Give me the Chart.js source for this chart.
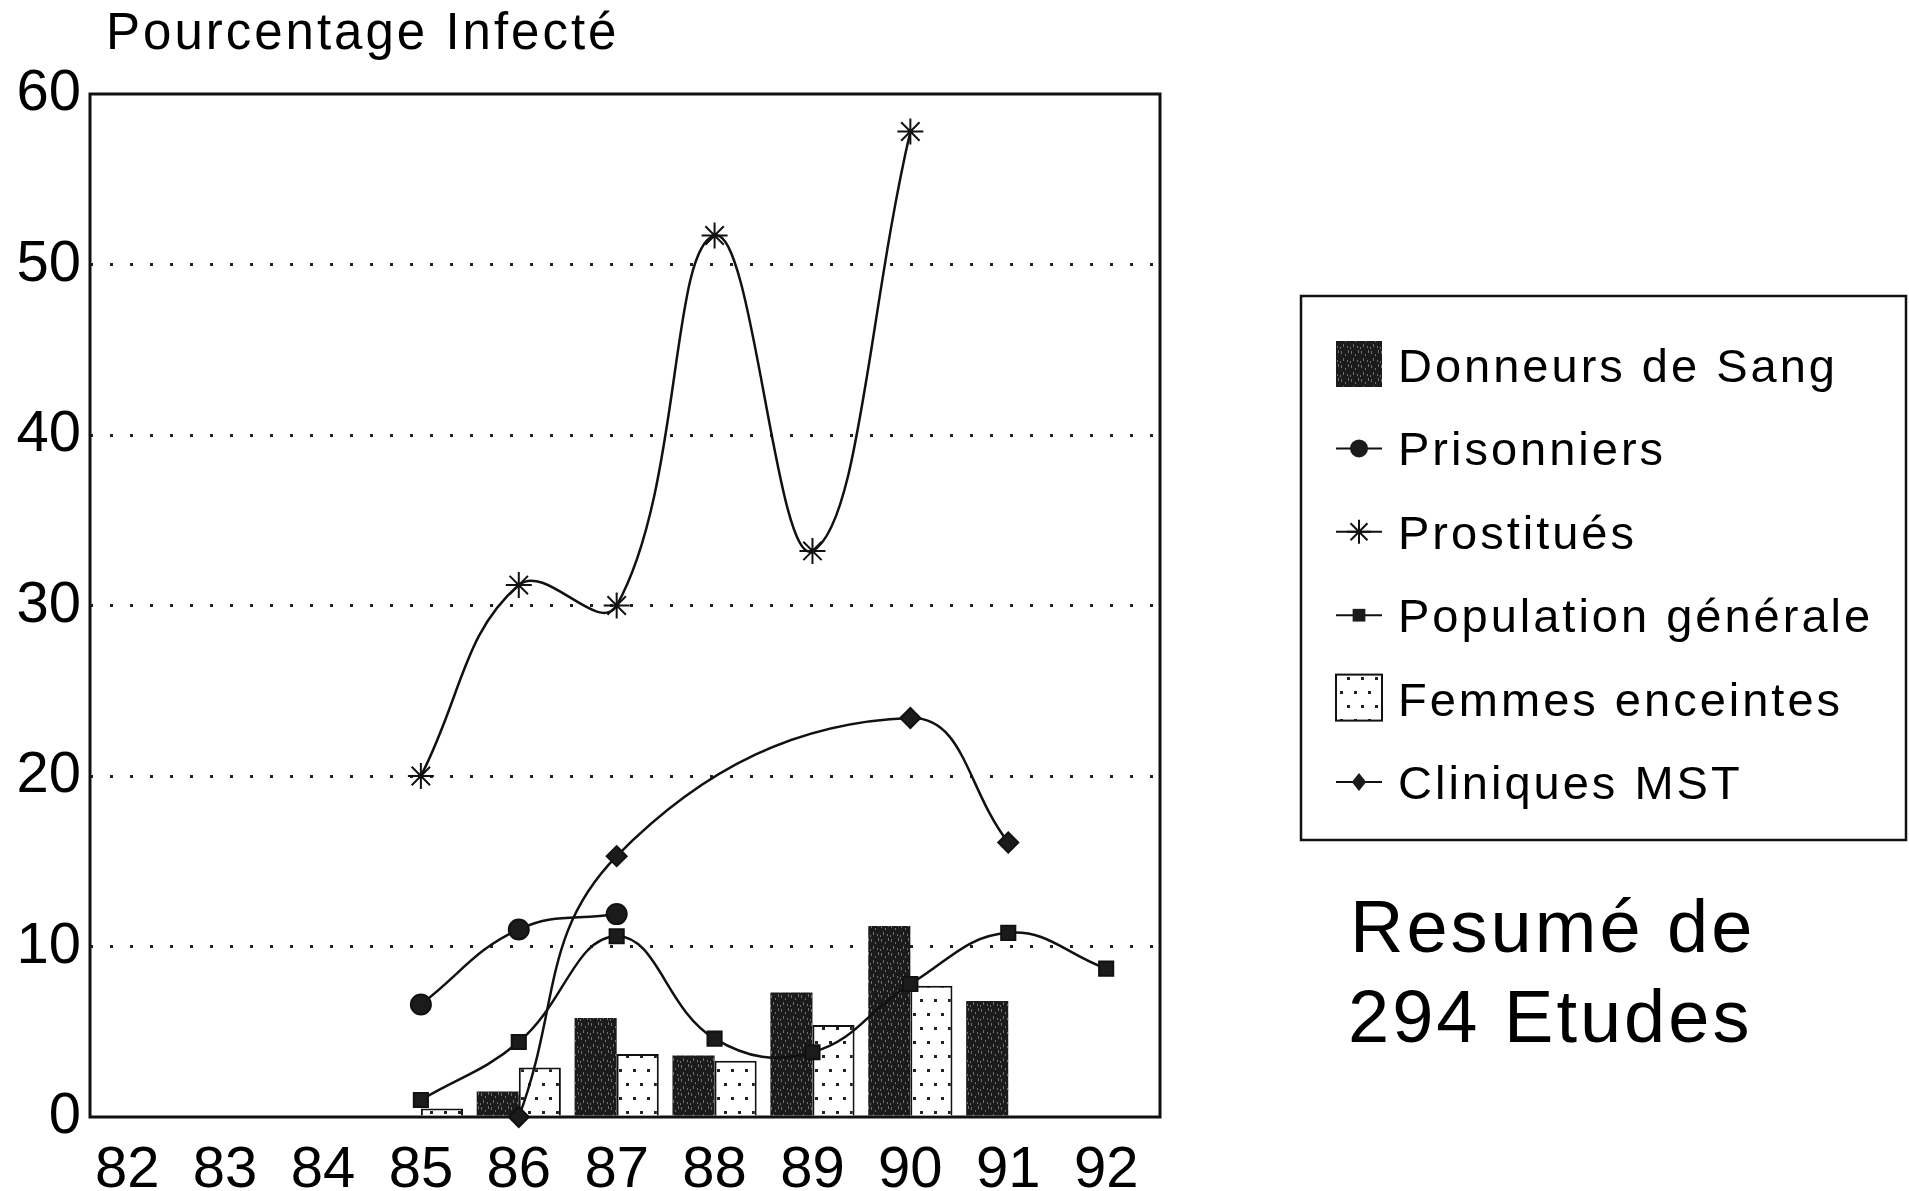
<!DOCTYPE html>
<html lang="fr">
<head>
<meta charset="utf-8">
<title>Pourcentage Infecté</title>
<script src="https://cdn.jsdelivr.net/npm/chart.js"></script>
<style>
  html, body { margin: 0; padding: 0; background: #fff; }
  #wrap { width: 1909px; height: 1191px; }
</style>
</head>
<body>
<div id="wrap"><canvas id="chart" width="1909" height="1191"></canvas></div>
<script>
// values
const years = ["82", "83", "84", "85", "86", "87", "88", "89", "90", "91", "92"];
const donneurs = [null, null, null, null, 1.5, 5.8, 3.6, 7.3, 11.2, 6.8, null];
const prisonniers = [null, null, null, 6.6, 11.0, 11.9, null, null, null, null, null];
const prostitues = [null, null, null, 20.0, 31.2, 30.0, 51.7, 33.2, 57.8, null, null];
const population = [null, null, null, 1.0, 4.4, 10.6, 4.6, 3.8, 7.8, 10.8, 8.7];
const femmes = [null, null, null, 0.5, 2.9, 3.7, 3.3, 5.4, 7.7, null, null];
const cliniques = [null, null, null, null, 0.0, 15.3, null, null, 23.4, 16.1, null];

const INK = "#111";
const FONT = "'Liberation Sans', Arial, Helvetica, sans-serif";

function makeDarkPattern() {
  const c = document.createElement("canvas");
  c.width = 10;
  c.height = 14;
  const g = c.getContext("2d");
  g.fillStyle = "#1b1b1b";
  g.fillRect(0, 0, 10, 14);
  g.fillStyle = "#6e6e6e";
  [[1, 1, 1, 3], [5, 4, 1, 2], [8, 0, 1, 3], [3, 8, 1, 3], [7, 10, 1, 2], [0, 11, 1, 2]]
    .forEach(([x, y, w, h]) => g.fillRect(x, y, w, h));
  return g.createPattern(c, "repeat");
}

function makeDotPattern() {
  const c = document.createElement("canvas");
  c.width = 14;
  c.height = 28;
  const g = c.getContext("2d");
  g.fillStyle = "#fff";
  g.fillRect(0, 0, 14, 28);
  g.fillStyle = "#222";
  g.fillRect(3, 5, 3, 3);
  g.fillRect(10, 19, 3, 3);
  return g.createPattern(c, "repeat");
}

const darkFill = makeDarkPattern();
const dotFill = makeDotPattern();

function lineSet(label, data, style, radius) {
  return {
    type: "line",
    label: label,
    data: data,
    borderColor: INK,
    borderWidth: 2.5,
    tension: 0.42,
    spanGaps: true,
    pointStyle: style,
    pointRadius: radius,
    pointBackgroundColor: "#1b1b1b",
    pointBorderColor: INK,
    pointBorderWidth: 2,
    clip: false,
    order: 0,
  };
}

// plot frame round the chart area
const framePlugin = {
  id: "frame",
  beforeDatasetsDraw(chart) {
    const { ctx, chartArea: a } = chart;
    ctx.save();
    ctx.strokeStyle = INK;
    ctx.lineWidth = 3;
    ctx.strokeRect(a.left, a.top, a.right - a.left, a.bottom - a.top);
    ctx.restore();
  },
};

function drawMarker(ctx, style, r, x, y) {
  ctx.beginPath();
  if (style === "circle") {
    ctx.arc(x, y, r, 0, Math.PI * 2);
    ctx.fill();
  } else if (style === "rect") {
    const s = r * Math.SQRT1_2;
    ctx.fillRect(x - s, y - s, 2 * s, 2 * s);
  } else if (style === "rectRot") {
    ctx.moveTo(x, y - r);
    ctx.lineTo(x + r * 0.8, y);
    ctx.lineTo(x, y + r);
    ctx.lineTo(x - r * 0.8, y);
    ctx.closePath();
    ctx.fill();
  } else if (style === "star") {
    for (let k = 0; k < 4; k++) {
      const t = (k * Math.PI) / 4;
      ctx.moveTo(x - r * Math.cos(t), y - r * Math.sin(t));
      ctx.lineTo(x + r * Math.cos(t), y + r * Math.sin(t));
    }
    ctx.stroke();
  }
}

// boxed legend, title and the side note
const notesPlugin = {
  id: "notes",
  afterDraw(chart) {
    const ctx = chart.ctx;
    ctx.save();
    ctx.fillStyle = "#000";
    ctx.textBaseline = "alphabetic";
    ctx.textAlign = "left";

    ctx.font = "51px " + FONT;
    ctx.letterSpacing = "3px";
    ctx.fillText("Pourcentage Infecté", 106, 49);

    ctx.strokeStyle = INK;
    ctx.lineWidth = 2.5;
    ctx.strokeRect(1301, 296, 605, 544);

    ctx.font = "47px " + FONT;
    chart.data.datasets.forEach((ds, i) => {
      const cy = 365 + i * 83.4;
      const ix = 1336;
      if (ds.type === "bar") {
        ctx.fillStyle = ds.backgroundColor;
        ctx.fillRect(ix, cy - 24, 46, 46);
        if (ds.borderWidth) {
          ctx.lineWidth = 2;
          ctx.strokeRect(ix, cy - 24, 46, 46);
        }
      } else {
        ctx.lineWidth = 2;
        ctx.beginPath();
        ctx.moveTo(ix, cy);
        ctx.lineTo(ix + 46, cy);
        ctx.stroke();
        ctx.fillStyle = "#1b1b1b";
        drawMarker(ctx, ds.pointStyle, ds.pointStyle === "star" ? 12 : 9, ix + 23, cy);
      }
      ctx.fillStyle = "#000";
      ctx.fillText(ds.label, 1398, cy + 17);
    });

    ctx.font = "74px " + FONT;
    ctx.fillText("Resumé de", 1350, 952);
    ctx.fillText("294 Etudes", 1348, 1042);
    ctx.restore();
  },
};

new Chart(document.getElementById("chart"), {
  data: {
    labels: years,
    datasets: [
      {
        type: "bar",
        label: "Donneurs de Sang",
        data: donneurs,
        backgroundColor: darkFill,
        borderWidth: 0,
        categoryPercentage: 0.86,
        barPercentage: 1.0,
        order: 10,
      },
      lineSet("Prisonniers", prisonniers, "circle", 10),
      lineSet("Prostitués", prostitues, "star", 13),
      lineSet("Population générale", population, "rect", 10),
      {
        type: "bar",
        label: "Femmes enceintes",
        data: femmes,
        backgroundColor: dotFill,
        borderColor: INK,
        borderWidth: 2,
        categoryPercentage: 0.86,
        barPercentage: 1.0,
        order: 10,
      },
      lineSet("Cliniques MST", cliniques, "rectRot", 10),
    ],
  },
  options: {
    responsive: false,
    animation: false,
    layout: { padding: { left: 0, top: 94, right: 749, bottom: 0 } },
    plugins: {
      legend: { display: false },
      title: { display: false },
      tooltip: { enabled: false },
    },
    scales: {
      x: {
        type: "linear",
        min: 81.62,
        max: 92.55,
        offset: false,
        grid: { display: false, drawTicks: false },
        border: { display: false },
        afterBuildTicks: (s) => {
          s.ticks = years.map((y) => ({ value: Number(y) }));
        },
        ticks: {
          color: "#000",
          font: { family: FONT, size: 58 },
          padding: 19,
          autoSkip: false,
          maxRotation: 0,
          callback: (v) => String(v),
        },
        afterFit: (s) => { s.height = 74; },
      },
      y: {
        min: 0,
        max: 60,
        grid: {
          drawTicks: false,
          lineWidth: 3,
          color: (c) => (c.tick && (c.tick.value === 0 || c.tick.value === 60) ? "rgba(0,0,0,0)" : "#222"),
          borderDash: [3, 17],
        },
        border: { display: false, dash: [3, 17] },
        ticks: {
          stepSize: 10,
          color: "#000",
          font: { family: FONT, size: 58 },
          padding: 9,
        },
        afterFit: (s) => { s.width = 90; },
      },
    },
  },
  plugins: [framePlugin, notesPlugin],
});
</script>
</body>
</html>
